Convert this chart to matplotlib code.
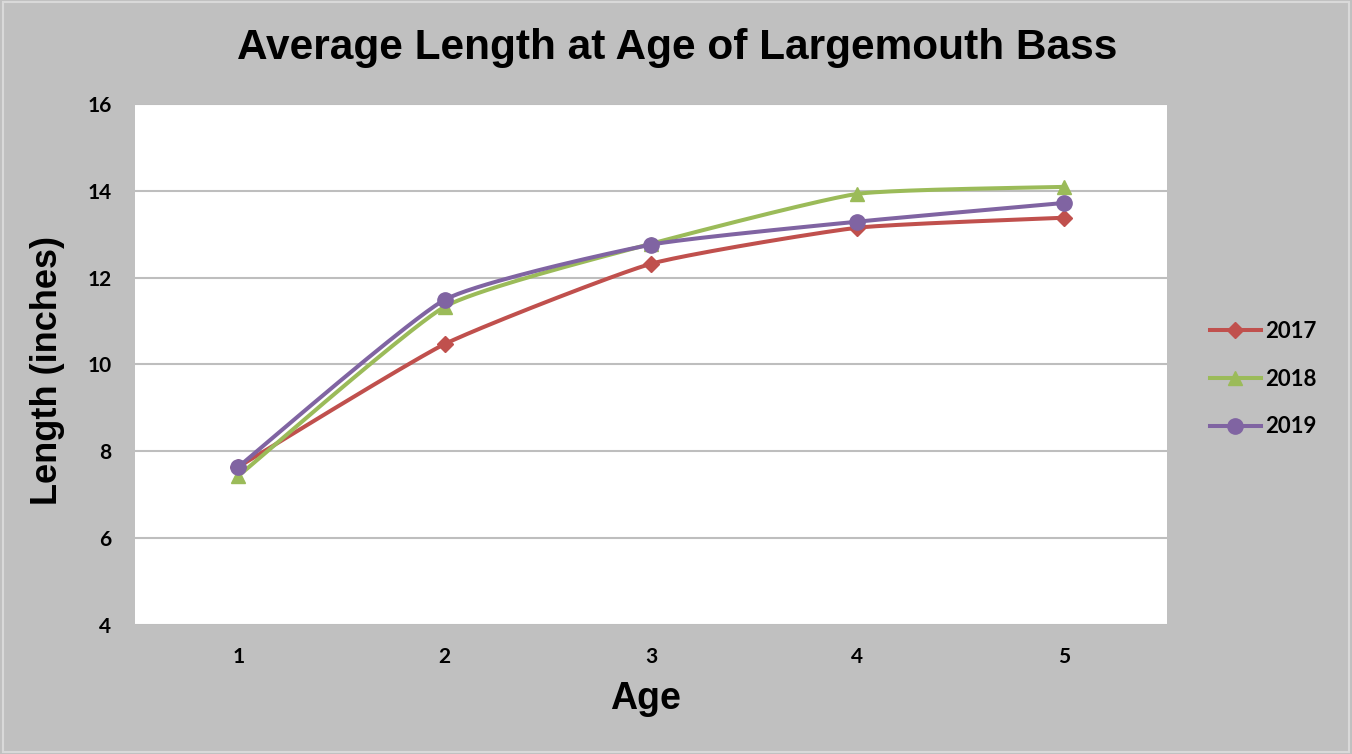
import matplotlib.pyplot as plt
import numpy as np
from matplotlib.lines import Line2D

ages = [1, 2, 3, 4, 5]
len_2017 = [7.64, 10.47, 12.32, 13.15, 13.38]
len_2018 = [7.43, 11.33, 12.78, 13.93, 14.09]
len_2019 = [7.64, 11.49, 12.76, 13.29, 13.72]

years = ['2017', '2018', '2019']
colors = ['#C0504D', '#9BBB59', '#8064A2']
markers = ['D', '^', 'o']
msizes = [8.5, 10.5, 11]

BG = '#C0C0C0'


def smooth(x, y, f=0.08, n=40):
    # smoothed line like excel: cubic bezier, tangents from neighbours
    x = np.asarray(x, float)
    y = np.asarray(y, float)
    px = np.concatenate([[x[0]], x, [x[-1]]])
    py = np.concatenate([[y[0]], y, [y[-1]]])
    xs, ys = [], []
    t = np.linspace(0, 1, n)
    for i in range(1, len(px) - 2):
        p0 = np.array([px[i], py[i]])
        p3 = np.array([px[i + 1], py[i + 1]])
        p1 = p0 + (np.array([px[i + 1], py[i + 1]]) - np.array([px[i - 1], py[i - 1]])) * f
        p2 = p3 - (np.array([px[i + 2], py[i + 2]]) - np.array([px[i], py[i]])) * f
        b = ((1 - t) ** 3)[:, None] * p0 + (3 * (1 - t) ** 2 * t)[:, None] * p1 \
            + (3 * (1 - t) * t ** 2)[:, None] * p2 + (t ** 3)[:, None] * p3
        xs.extend(b[:, 0])
        ys.extend(b[:, 1])
    return xs, ys


fig = plt.figure(figsize=(13.52, 7.54), dpi=100, facecolor=BG)
ax = fig.add_axes([0.0999, 0.1711, 0.7633, 0.691])
ax.set_facecolor('white')

for vals, year, c, m, ms in zip([len_2017, len_2018, len_2019], years, colors, markers, msizes):
    sx, sy = smooth(ages, vals)
    ax.plot(sx, sy, color=c, lw=2.9, zorder=3, solid_capstyle='round')
    ax.plot(ages, vals, ls='none', marker=m, ms=ms, color=c, mec=c, zorder=4)

ax.set_xlim(0.5, 5.5)
ax.set_ylim(4, 16)
ax.set_yticks(range(4, 17, 2))
ax.set_xticks(ages)
ax.grid(axis='y', color='#BEBEBE', lw=1.5)
ax.set_axisbelow(True)
for s in ax.spines.values():
    s.set_visible(False)
ax.tick_params(length=0, labelsize=15)
ax.tick_params(axis='x', pad=16)
ax.tick_params(axis='y', pad=17)
for lbl in ax.get_xticklabels() + ax.get_yticklabels():
    lbl.set_fontfamily('Lato')
    lbl.set_fontweight('bold')

fig.text(0.5007, 0.936, 'Average Length at Age of Largemouth Bass', ha='center', va='center',
         fontsize=30.5, fontweight='bold', family='Liberation Sans')
fig.text(0.0355, 0.508, 'Length (inches)', ha='center', va='center', rotation=90,
         fontsize=26, fontweight='bold', family='Liberation Sans')
fig.text(0.4771, 0.073, 'Age', ha='center', va='center',
         fontsize=27, fontweight='bold', family='Liberation Sans')

handles = [Line2D([], [], color=c, lw=2.9, marker=m, ms=ms) for c, m, ms in zip(colors, markers, msizes)]
leg = fig.legend(handles, years, loc='center left', bbox_to_anchor=(0.880, 0.497), frameon=False,
                 prop={'family': 'Lato', 'weight': 'bold', 'size': 16}, handlelength=2.3,
                 labelspacing=1.2, handletextpad=0.2)

fig.patches.append(plt.Rectangle((0.002, 0.003), 0.996, 0.994, transform=fig.transFigure,
                                 fill=False, ec='#D9D9D9', lw=1.5))

fig.savefig('out.png', dpi=100, facecolor=BG)
